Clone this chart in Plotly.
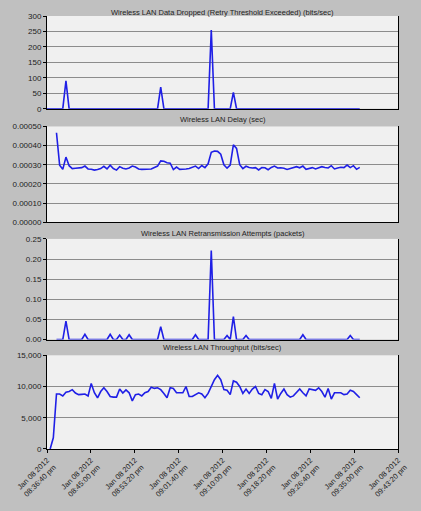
import plotly.graph_objects as go

# ---- data ----
step_sec = 36
n_points = 100
time_sec = [i * step_sec for i in range(n_points)]

tick_secs = [0, 500, 1000, 1500, 2000, 2500, 3000, 3500, 4000]
tick_labels = [
    "Jan 08 2012<br>08:36:40 pm", "Jan 08 2012<br>08:45:00 pm", "Jan 08 2012<br>08:53:20 pm",
    "Jan 08 2012<br>09:01:40 pm", "Jan 08 2012<br>09:10:00 pm", "Jan 08 2012<br>09:18:20 pm",
    "Jan 08 2012<br>09:26:40 pm", "Jan 08 2012<br>09:35:00 pm", "Jan 08 2012<br>09:43:20 pm",
]

titles = [
    "Wireless LAN Data Dropped (Retry Threshold Exceeded) (bits/sec)",
    "Wireless LAN Delay (sec)",
    "Wireless LAN Retransmission Attempts (packets)",
    "Wireless LAN Throughput (bits/sec)",
]

dropped = [
    0, 0, 0, 0, 0, 0, 90, 0, 0, 0,
    0, 0, 0, 0, 0, 0, 0, 0, 0, 0,
    0, 0, 0, 0, 0, 0, 0, 0, 0, 0,
    0, 0, 0, 0, 0, 0, 70, 0, 0, 0,
    0, 0, 0, 0, 0, 0, 0, 0, 0, 0,
    0, 0, 255, 0, 0, 0, 0, 0, 0, 53,
    0, 0, 0, 0, 0, 0, 0, 0, 0, 0,
    0, 0, 0, 0, 0, 0, 0, 0, 0, 0,
    0, 0, 0, 0, 0, 0, 0, 0, 0, 0,
    0, 0, 0, 0, 0, 0, 0, 0, 0, 0,
]

delay = [
    None, None, None, 0.000467, 0.000298, 0.000276, 0.000340, 0.000295, 0.000280, 0.000282,
    0.000284, 0.000285, 0.000293, 0.000278, 0.000276, 0.000272, 0.000275, 0.000280, 0.000292, 0.000278,
    0.000298, 0.000280, 0.000272, 0.000290, 0.000282, 0.000278, 0.000283, 0.000293, 0.000288, 0.000278,
    0.000276, 0.000276, 0.000275, 0.000278, 0.000286, 0.000293, 0.000320, 0.000318, 0.000310, 0.000308,
    0.000275, 0.000288, 0.000276, 0.000276, 0.000278, 0.000280, 0.000286, 0.000293, 0.000280, 0.000296,
    0.000285, 0.000305, 0.000365, 0.000372, 0.000370, 0.000355, 0.000300, 0.000282, 0.000298, 0.000404,
    0.000385, 0.000300, 0.000280, 0.000292, 0.000286, 0.000283, 0.000285, 0.000273, 0.000285, 0.000284,
    0.000274, 0.000286, 0.000293, 0.000283, 0.000284, 0.000282, 0.000275, 0.000280, 0.000288, 0.000290,
    0.000284, 0.000293, 0.000276, 0.000280, 0.000285, 0.000278, 0.000282, 0.000290, 0.000286, 0.000283,
    0.000295, 0.000278, 0.000283, 0.000287, 0.000285, 0.000298, 0.000285, 0.000295, 0.000276, 0.000286,
]

retrans = [
    None, None, None, 0, 0, 0, 0.046, 0, 0, 0,
    0, 0, 0.013, 0, 0, 0, 0, 0, 0, 0,
    0.013, 0, 0, 0.011, 0, 0, 0.012, 0, 0, 0,
    0, 0, 0, 0, 0, 0, 0.032, 0, 0, 0,
    0, 0, 0, 0, 0, 0, 0, 0.012, 0, 0,
    0, 0, 0.221, 0, 0, 0, 0, 0.010, 0, 0.057,
    0, 0, 0, 0.010, 0, 0, 0, 0, 0, 0,
    0, 0, 0, 0, 0, 0, 0, 0, 0, 0,
    0, 0.012, 0, 0, 0, 0, 0, 0, 0, 0,
    0, 0, 0, 0, 0, 0, 0.010, 0, 0, 0,
]

throughput = [
    None, 0, 1800, 8800, 8800, 8500, 9100, 9200, 9500, 8950,
    8700, 8750, 8800, 8500, 10500, 9000, 8200, 9200, 9800, 9200,
    8400, 8300, 8300, 9600, 8950, 9450, 9000, 7700, 8700, 8800,
    8500, 9000, 9200, 9900, 9700, 9800, 9500, 8900, 8200, 9800,
    9700, 9000, 9000, 9000, 10000, 8400, 8400, 8700, 9000, 8800,
    8200, 8900, 10000, 11100, 11800, 11100, 9500, 9400, 8700, 10900,
    10700, 10000, 8900, 9600, 8900, 9600, 10000, 8900, 8700, 9500,
    9200, 8100, 10500, 8000, 8900, 9600, 8700, 8300, 8500, 9000,
    9600, 9000, 8500, 9600, 9500, 9400, 9800, 9200, 8300, 9700,
    8000, 9000, 9000, 9000, 8700, 8800, 9400, 9200, 8700, 8200,
]

y_ticks = [
    [0, 50, 100, 150, 200, 250, 300],
    [0, 0.0001, 0.0002, 0.0003, 0.0004, 0.0005],
    [0, 0.05, 0.10, 0.15, 0.20, 0.25],
    [0, 5000, 10000, 15000],
]
y_ranges = [[0, 300], [0, 0.0005], [0, 0.25], [0, 15000]]
y_formats = ["d", ".5f", ".2f", ",d"]

# ---- figure ----
W, H = 421, 511
ML, MR, MT, MB = 45, 17, 16, 56
domains = [[0.7859, 1.0], [0.5239, 0.7449], [0.2528, 0.4852], [0.0, 0.2164]]
title_px = [12, 121, 237, 352]

line_color = "#1f1fe6"
font_fam = "Liberation Sans, Arial, sans-serif"

fig = go.Figure()
series = [dropped, delay, retrans, throughput]
for k, ys in enumerate(series):
    sfx = "" if k == 0 else str(k + 1)
    fig.add_trace(go.Scatter(
        x=time_sec, y=ys, mode="lines",
        line=dict(color=line_color, width=1.6),
        xaxis="x" + sfx, yaxis="y" + sfx, showlegend=False,
        connectgaps=False,
    ))

layout = dict(
    width=W, height=H,
    margin=dict(l=ML, r=MR, t=MT, b=MB),
    paper_bgcolor="#c0c0c0",
    plot_bgcolor="#f0f0f0",
    font=dict(family=font_fam, size=8, color="#222222"),
    showlegend=False,
)
plot_h = H - MT - MB
annotations = []
for k in range(4):
    sfx = "" if k == 0 else str(k + 1)
    last = (k == 3)
    layout["xaxis" + sfx] = dict(
        domain=[0, 1], anchor="y" + sfx, range=[0, 4000],
        tickvals=tick_secs, ticktext=tick_labels,
        showticklabels=last, ticks="outside" if last else "",
        ticklen=3, tickcolor="#000000",
        tickangle=-45, tickfont=dict(size=7.5, color="#222222"),
        showline=True, linecolor="#000000", linewidth=1,
        showgrid=False, zeroline=False, fixedrange=True,
    )
    layout["yaxis" + sfx] = dict(
        domain=domains[k], anchor="x" + sfx, range=y_ranges[k],
        tickvals=y_ticks[k], tickformat=y_formats[k],
        ticks="outside", ticklen=3, tickcolor="#000000",
        tickfont=dict(size=8, color="#222222"),
        showline=True, linecolor="#000000", linewidth=1, mirror=True,
        showgrid=True, gridcolor="#8c8c8c", gridwidth=1,
        zeroline=False, fixedrange=True,
    )
    annotations.append(dict(
        text=titles[k], xref="paper", yref="paper",
        x=0.5, y=1 - (title_px[k] - MT) / plot_h,
        xanchor="center", yanchor="middle", showarrow=False,
        font=dict(size=7.5, color="#222222"),
    ))
layout["annotations"] = annotations
fig.update_layout(**layout)

fig.write_html("out.html")
